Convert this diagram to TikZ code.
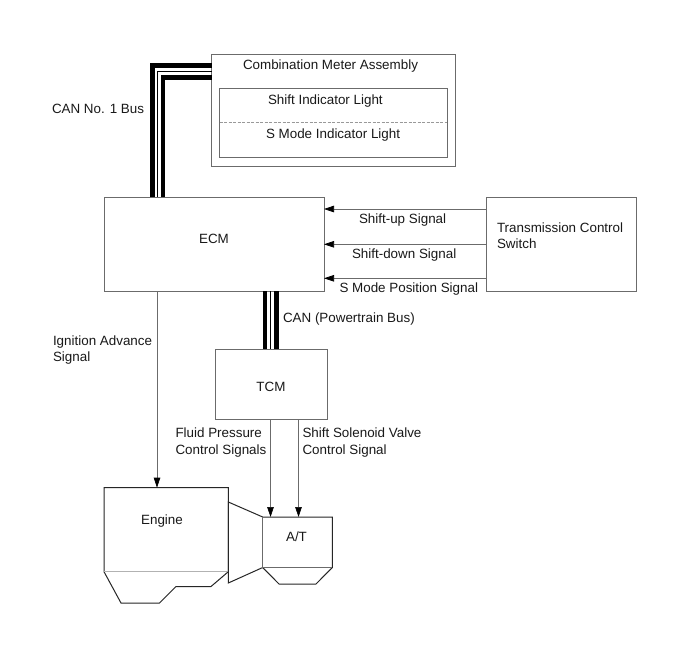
\documentclass[tikz,border=0pt]{standalone}
\usepackage{fontspec}
\setmainfont{Liberation Sans}
\usetikzlibrary{arrows.meta}
\definecolor{boxgray}{gray}{0.42}
\tikzset{
  x=1pt,y=-1pt,
  every node/.style={inner sep=0pt,outer sep=0pt},
  unit/.style={draw=boxgray,line width=0.8pt,anchor=north west},
  label/.style={font=\fontsize{13.4pt}{16.5pt}\selectfont,align=left,text=black!90},
  signal/.style={draw=boxgray,line width=0.7pt,-{Triangle[black,length=10pt,width=6.5pt]}},
  busheavy/.style={draw=black,line width=4.5pt},
  buscore/.style={draw=black,line width=0.9pt},
  outline/.style={draw=black!85,line width=1pt,line join=miter},
  divider/.style={draw=boxgray,line width=0.8pt},
}
\begin{document}
\begin{tikzpicture}
\useasboundingbox (0,0) rectangle (690,659);
\fill[white] (0,0) rectangle (690,659);

% Control units
\node[unit,minimum width=243.5pt,minimum height=111.5pt] (meter) at (211.5,54.5) {};
\node[unit,minimum width=227.5pt,minimum height=69pt] (lights) at (219.5,88.5) {};
\node[unit,minimum width=220pt,minimum height=94pt] (ecm) at (104,197) {};
\node[unit,minimum width=150pt,minimum height=94pt] (tcs) at (486,197) {};
\node[unit,minimum width=112pt,minimum height=70pt] (tcm) at (215,349) {};

\draw[draw=black!40,dashed,dash pattern=on 3pt off 1.5pt,line width=0.8pt]
  (lights.west |- 0,122.7) -- (lights.east |- 0,122.7);

% Free ends of the bus runs on each unit edge
\coordinate (mA) at (meter.west |- 0,65.5);
\coordinate (mB) at (meter.west |- 0,71.7);
\coordinate (mC) at (meter.west |- 0,77.5);
\coordinate (eA) at (152.5,0 |- ecm.north);
\coordinate (eB) at (157.6,0 |- ecm.north);
\coordinate (eC) at (163.2,0 |- ecm.north);
\coordinate (cA) at (265,0 |- ecm.south);
\coordinate (cB) at (270.7,0 |- ecm.south);
\coordinate (cC) at (276.3,0 |- ecm.south);
\coordinate (tA) at (265,0 |- tcm.north);
\coordinate (tB) at (270.7,0 |- tcm.north);
\coordinate (tC) at (276.3,0 |- tcm.north);

% CAN No. 1 bus
\draw[busheavy,line join=miter] (eA) |- (mA);
\draw[busheavy,line join=miter] (eC) |- (mC);
\draw[buscore,line join=miter] (eB) |- (mB);

% Powertrain CAN bus
\draw[busheavy] (cA) -- (tA);
\draw[busheavy] (cC) -- (tC);
\draw[buscore] (cB) -- (tB);

% Engine block and transmission case
\coordinate (engTop) at (157,487.7);
\coordinate (atL) at (270.5,517);
\coordinate (atR) at (298.5,517);
\draw[outline] (104,571.7) -- (104,487.7) -- (228.3,487.7) -- (228.3,571.7)
  -- (211,586.5) -- (176,586.5) -- (159.5,603) -- (121,603) -- cycle;
\draw[divider,draw=black!30] (104,571.7) -- (228.3,571.7);
\draw[outline] (228.3,502) -- (262.7,517) -- (332.3,517) -- (332.3,567.5)
  -- (316,584) -- (279,584) -- (262.7,567.5) -- (228.3,583) -- cycle;
\draw[divider] (262.7,517) -- (262.7,567.5) -- (332.3,567.5);

% Signals
\coordinate (e1) at (ecm.east |- 0,209);
\coordinate (e2) at (ecm.east |- 0,244.3);
\coordinate (e3) at (ecm.east |- 0,278.3);
\coordinate (s1) at (tcs.west |- 0,209);
\coordinate (s2) at (tcs.west |- 0,244.3);
\coordinate (s3) at (tcs.west |- 0,278.3);
\draw[signal] (s1) -- (e1);
\draw[signal] (s2) -- (e2);
\draw[signal] (s3) -- (e3);
\draw[signal] (157,0 |- ecm.south) -- (engTop);
\draw[signal] (270.5,0 |- tcm.south) -- (atL);
\draw[signal] (298.5,0 |- tcm.south) -- (atR);

% Labels
\node[label,anchor=west] (tMeter) at (243,66) {Combination Meter Assembly};
\node[label,anchor=west] (tShift) at (268,101) {Shift Indicator Light};
\node[label,anchor=west] (tSMode) at (266,135) {S Mode Indicator Light};
\node[label,anchor=west] (tBus1) at (52,108.5) {CAN No. 1 Bus};
\node[label,anchor=center] (tEcm) at (214,239) {ECM};
\node[label,anchor=west] (tTcs) at (497,235.5) {Transmission Control\\Switch};
\node[label,anchor=west] (tUp) at (359,220) {Shift-up Signal};
\node[label,anchor=west] (tDown) at (352,255) {Shift-down Signal};
\node[label,anchor=west] (tPos) at (339.5,289) {S Mode Position Signal};
\node[label,anchor=west] (tCan) at (283,319.5) {CAN (Powertrain Bus)};
\node[label,anchor=center] (tTcm) at (271,387) {TCM};
\node[label,anchor=west] (tIgn) at (53,350) {Ignition Advance\\Signal};
\node[label,anchor=west] (tFluid) at (175.5,442.5) {Fluid Pressure\\Control Signals};
\node[label,anchor=west] (tSol) at (302.5,442.5) {Shift Solenoid Valve\\Control Signal};
\node[label,anchor=center] (tEng) at (162,521.5) {Engine};
\node[label,anchor=center] (tAT) at (296.5,536.5) {A/T};
\end{tikzpicture}
\end{document}
